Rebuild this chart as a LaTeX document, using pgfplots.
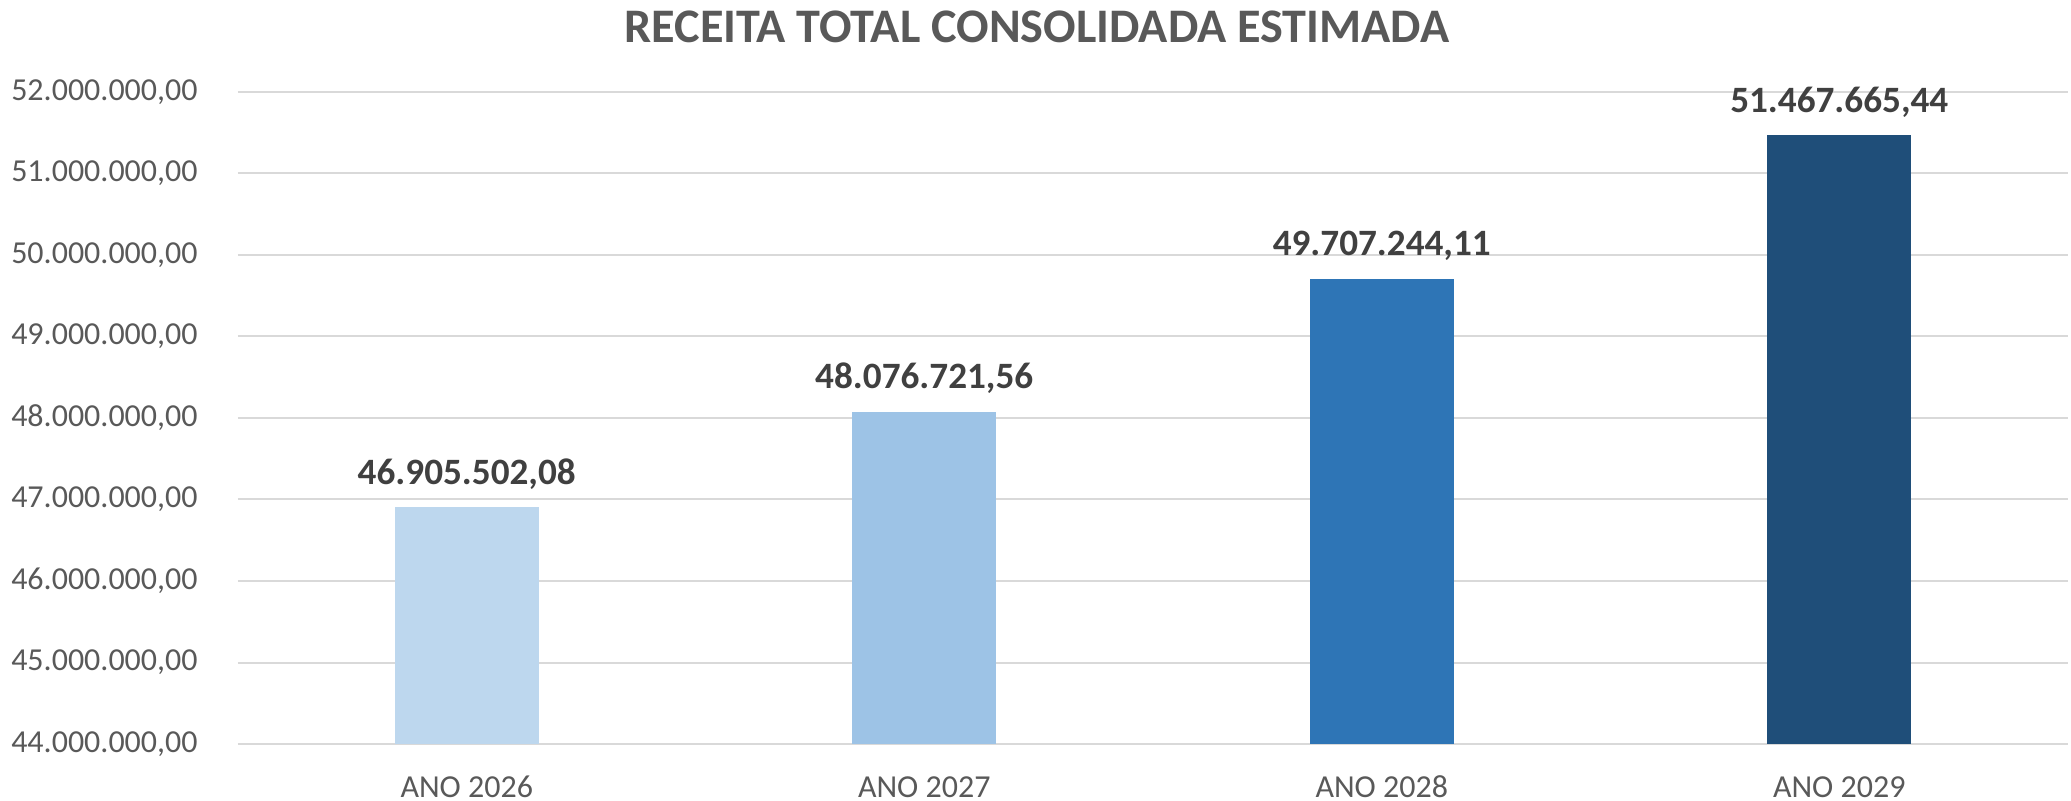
\documentclass[border=0pt]{standalone}
\usepackage{pgfplots}
\pgfplotsset{compat=1.18}
\usepackage{pgfplotstable}
\usepackage{fontspec}
\setmainfont{Carlito}
\definecolor{cA}{HTML}{BDD7EE}
\definecolor{cB}{HTML}{9DC3E6}
\definecolor{cC}{HTML}{2E75B6}
\definecolor{cD}{HTML}{1F4E79}
\definecolor{gridc}{HTML}{D9D9D9}
\definecolor{tickc}{HTML}{595959}
\definecolor{labc}{HTML}{404040}
\pgfplotstableread{
x y lab
0 46905502.08 46.905.502,08
}\tA
\pgfplotstableread{
x y lab
1 48076721.56 48.076.721,56
}\tB
\pgfplotstableread{
x y lab
2 49707244.11 49.707.244,11
}\tC
\pgfplotstableread{
x y lab
3 51467665.44 51.467.665,44
}\tD
\begin{document}
\begin{tikzpicture}
\begin{axis}[name=ax,
  width=915bp, height=326bp, scale only axis,
  xmin=-0.5, xmax=3.5, ymin=44000000, ymax=52000000,
  ytick={44000000,45000000,46000000,47000000,48000000,49000000,50000000,51000000,52000000},
  xtick={0,1,2,3}, xticklabels={ANO 2026,ANO 2027,ANO 2028,ANO 2029},
  axis line style={draw=none},
  major tick length=0pt,
  ymajorgrids, grid style={draw=gridc, line width=1bp},
  scaled y ticks=false,
  ticklabel style={font=\fontsize{16bp}{18bp}\selectfont, text=tickc},
  yticklabel style={/pgf/number format/fixed, /pgf/number format/fixed zerofill, /pgf/number format/precision=2, /pgf/number format/1000 sep={.}, /pgf/number format/use comma, /pgf/number format/assume math mode=true, anchor=east, inner sep=0pt, xshift=-20bp},
  xticklabel style={anchor=base, inner sep=0pt, yshift=-26.5bp},
  ybar, bar width=72bp,
  nodes near coords, point meta=explicit symbolic,
  nodes near coords style={anchor=base, inner sep=0pt, yshift=11.5bp, font=\bfseries\fontsize{18.6bp}{21bp}\selectfont, text=labc},
]
\addplot[fill=cA, draw=none, bar shift=0pt] table[x=x, y=y, meta=lab] {\tA};
\addplot[fill=cB, draw=none, bar shift=0pt] table[x=x, y=y, meta=lab] {\tB};
\addplot[fill=cC, draw=none, bar shift=0pt] table[x=x, y=y, meta=lab] {\tC};
\addplot[fill=cD, draw=none, bar shift=0pt] table[x=x, y=y, meta=lab] {\tD};
\end{axis}
\node[anchor=base, inner sep=0pt, font=\bfseries\fontsize{24.1bp}{28bp}\selectfont, text=tickc] at ([shift={(399.5bp,24.7bp)}]ax.north west) {RECEITA TOTAL CONSOLIDADA ESTIMADA};
\pgfresetboundingbox
\path ([shift={(-119bp,-28.5bp)}]ax.south west) rectangle ([shift={(1.5bp,46bp)}]ax.north east);
\end{tikzpicture}
\end{document}
